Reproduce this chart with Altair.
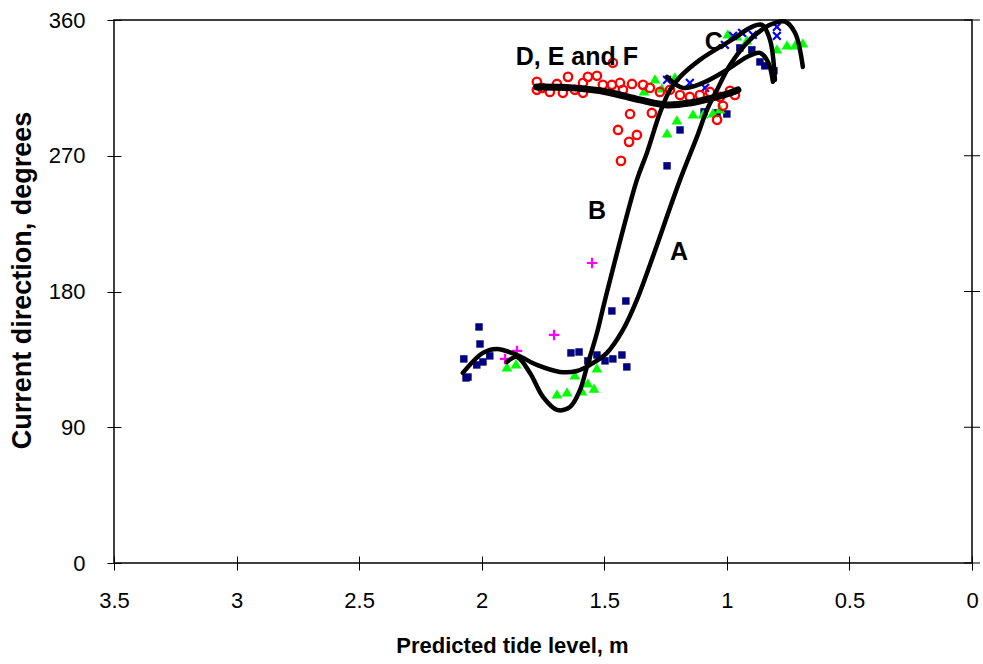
import altair as alt
import pandas as pd

# ---------------- data ----------------
sq_x = [2.073, 2.064, 2.056, 2.020, 2.011, 2.007, 1.995, 1.967, 1.636, 1.603, 1.567, 1.530, 1.497,
        1.465, 1.428, 1.408, 1.469, 1.412, 1.244, 1.191, 1.093, 1.040, 1.000, 0.947, 0.898, 0.865,
        0.845, 0.808]
sq_y = [135.3, 122.7, 123.3, 131.3, 156.5, 145.2, 133.3, 137.3, 139.3, 139.9, 134.0, 137.9, 134.0,
        135.3, 137.9, 130.0, 167.1, 173.7, 263.3, 287.1, 299.1, 298.4, 297.7, 341.5, 340.2, 332.2,
        329.6, 326.3]

tri_x = [1.897, 1.860, 1.693, 1.652, 1.620, 1.591, 1.567, 1.542, 1.530,
         1.338, 1.293, 1.265, 1.212, 1.204, 1.244, 1.138, 1.097, 1.057, 1.028,
         0.996, 0.959, 0.918, 0.796, 0.755, 0.722, 0.690]
tri_y = [130.0, 132.0, 112.1, 113.4, 124.7, 114.1, 119.4, 116.0, 129.3,
         313.0, 321.0, 315.0, 322.3, 293.8, 285.1, 297.7, 297.7, 298.4, 301.1,
         350.8, 349.5, 346.8, 340.8, 343.5, 343.5, 344.8]

plus_x = [1.550, 1.705, 1.856, 1.905]
plus_y = [198.9, 151.2, 140.6, 135.3]

cross_x = [1.244, 1.151, 1.089, 1.008, 0.975, 0.938, 0.894, 0.796, 0.796]
cross_y = [320.3, 318.3, 315.0, 343.5, 349.5, 351.5, 350.1, 355.4, 349.5]

circ_x = [1.775, 1.775, 1.754, 1.722, 1.693, 1.669, 1.648, 1.620, 1.587, 1.587, 1.567, 1.530,
          1.506, 1.469, 1.465, 1.436, 1.424, 1.387, 1.342, 1.314, 1.273, 1.232, 1.191, 1.151,
          1.110, 1.069, 1.028, 0.987, 0.967, 1.040, 1.016, 1.395, 1.306, 1.444, 1.367, 1.399,
          1.432]
circ_y = [319.0, 313.7, 315.0, 312.3, 317.6, 311.7, 322.3, 313.7, 318.3, 311.7, 322.3, 323.0,
          317.0, 317.0, 331.6, 318.3, 313.7, 317.6, 317.0, 315.0, 312.3, 313.7, 310.3, 309.0,
          310.3, 312.3, 309.0, 313.0, 310.3, 293.8, 303.1, 297.7, 298.4, 287.1, 283.8, 279.2,
          266.6]

# trend curves
curve_a_x = [2.077, 1.995, 1.938, 1.856, 1.775, 1.681, 1.612, 1.559, 1.489, 1.424, 1.367, 1.191,
             1.122, 1.081, 1.040, 0.987, 0.906, 0.824, 0.763, 0.722, 0.690]
curve_a_y = [126.0, 139.3, 141.9, 137.9, 131.3, 126.7, 127.3, 131.3, 139.3, 154.5, 174.4, 254.0,
             282.5, 300.4, 313.7, 330.2, 346.8, 356.8, 359.0, 351.5, 328.9]

curve_b_x = [1.897, 1.856, 1.803, 1.750, 1.693, 1.640, 1.599, 1.571, 1.530, 1.497, 1.367, 1.326,
             1.273, 1.232, 1.191, 1.110, 0.967, 0.906, 0.857, 0.824, 0.804]
curve_b_y = [133.3, 136.6, 126.0, 110.1, 101.5, 103.4, 114.7, 130.0, 152.5, 174.4, 254.0, 271.9,
             298.4, 313.7, 322.3, 333.6, 348.1, 354.8, 356.8, 346.8, 320.3]

curve_c_x = [1.244, 1.179, 1.098, 1.000, 0.918, 0.865, 0.832, 0.812]
curve_c_y = [322.3, 315.0, 318.3, 326.9, 335.5, 338.2, 332.2, 319.0]

curve_def_x = [1.775, 1.628, 1.489, 1.355, 1.244, 1.151, 1.057, 0.975, 0.955]
curve_def_y = [315.6, 315.0, 312.3, 307.0, 303.7, 305.0, 308.4, 312.3, 313.7]

label_text = ["D, E and F", "C", "B", "A"]
label_x = [1.612, 1.053, 1.530, 1.195]
label_y = [335.5, 345.5, 233.4, 206.2]

x_ticks = [0, 0.5, 1, 1.5, 2, 2.5, 3, 3.5]
y_ticks = [0, 90, 180, 270, 360]

# ---------------- build ----------------
FONT = "Liberation Sans"
xs = alt.Scale(domain=[0, 3.5], reverse=True, nice=False, zero=False)
ys = alt.Scale(domain=[0, 360], nice=False, zero=False)

def pts(x, y):
    return pd.DataFrame({"x": x, "y": y})

def crv(x, y, name):
    return pd.DataFrame({"x": x, "y": y, "i": list(range(len(x))), "c": name})

X_axis = alt.Axis(values=x_ticks, format="~g", title="Predicted tide level, m", grid=False,
                  domain=False, offset=-7, tickSize=14, tickColor="black", tickWidth=1,
                  labelFont=FONT, labelFontSize=22, labelColor="black", labelPadding=20,
                  labelFlush=False,
                  titleFont=FONT, titleFontSize=22, titleFontWeight="bold", titleColor="black",
                  titleX=398, titleY=89, titleAnchor="middle", titleAlign="center",
                  titleBaseline="middle")
Y_axis = alt.Axis(values=y_ticks, title="Current direction, degrees", grid=False,
                  domain=False, offset=-7, tickSize=14, tickColor="black", tickWidth=1,
                  labelFont=FONT, labelFontSize=22, labelColor="black", labelPadding=22,
                  labelFlush=False,
                  titleFont=FONT, titleFontSize=27, titleFontWeight="bold", titleColor="black",
                  titleAngle=-90, titleX=-99, titleY=260, titleAlign="center",
                  titleBaseline="middle")

X = alt.X("x:Q", scale=xs)
Y = alt.Y("y:Q", scale=ys)

squares = alt.Chart(pts(sq_x, sq_y)).mark_point(
    shape="square", filled=True, color="#000080", size=55, opacity=1
).encode(x=alt.X("x:Q", scale=xs, axis=X_axis), y=alt.Y("y:Q", scale=ys, axis=Y_axis))

triangles = alt.Chart(pts(tri_x, tri_y)).mark_point(
    shape="triangle-up", filled=True, color="#00FF00", size=115, opacity=1
).encode(x=X, y=Y)

pluses = alt.Chart(pts(plus_x, plus_y)).mark_point(
    shape="M-1,0H1M0,-1V1", filled=False, color="#FF00FF", size=110, strokeWidth=2.2, opacity=1
).encode(x=X, y=Y)

crosses = alt.Chart(pts(cross_x, cross_y)).mark_point(
    shape="M-1,-1L1,1M1,-1L-1,1", filled=False, color="#0000FF", size=60, strokeWidth=2.2,
    opacity=1
).encode(x=X, y=Y)

circles = alt.Chart(pts(circ_x, circ_y)).mark_point(
    shape="circle", filled=False, color="#FF0000", size=70, strokeWidth=2.3, opacity=1
).encode(x=X, y=Y)

thin_curves = pd.concat([crv(curve_a_x, curve_a_y, "A"), crv(curve_b_x, curve_b_y, "B"),
                         crv(curve_c_x, curve_c_y, "C")])
curves = alt.Chart(thin_curves).mark_line(
    color="black", strokeWidth=4.5, interpolate="catmull-rom", strokeCap="round"
).encode(x=X, y=Y, detail="c:N", order="i:Q")

curve_def = alt.Chart(crv(curve_def_x, curve_def_y, "DEF")).mark_line(
    color="black", strokeWidth=7, interpolate="catmull-rom", strokeCap="round"
).encode(x=X, y=Y, order="i:Q")

labels = alt.Chart(pd.DataFrame({"t": label_text, "x": label_x, "y": label_y})).mark_text(
    font=FONT, fontSize=25, fontWeight="bold", color="black", align="center", baseline="middle"
).encode(x=X, y=Y, text="t:N")

# tick marks on the right-hand frame (crossing the border)
right_ticks = alt.Chart(pd.DataFrame({"y": y_ticks})).mark_rule(
    color="black", strokeWidth=1
).encode(y=Y, x=alt.value(850), x2=alt.value(866))

chart = alt.layer(
    squares, triangles, pluses, crosses, circles, curves, curve_def, labels, right_ticks
).properties(
    width=858, height=543,
    autosize=alt.AutoSizeParams(type="none"),
    padding={"left": 114, "top": 20, "right": 11, "bottom": 101},
    background="white",
).configure_view(stroke="black", strokeWidth=1.5)

chart.save("out.html", embed_options={"renderer": "svg", "actions": False})
